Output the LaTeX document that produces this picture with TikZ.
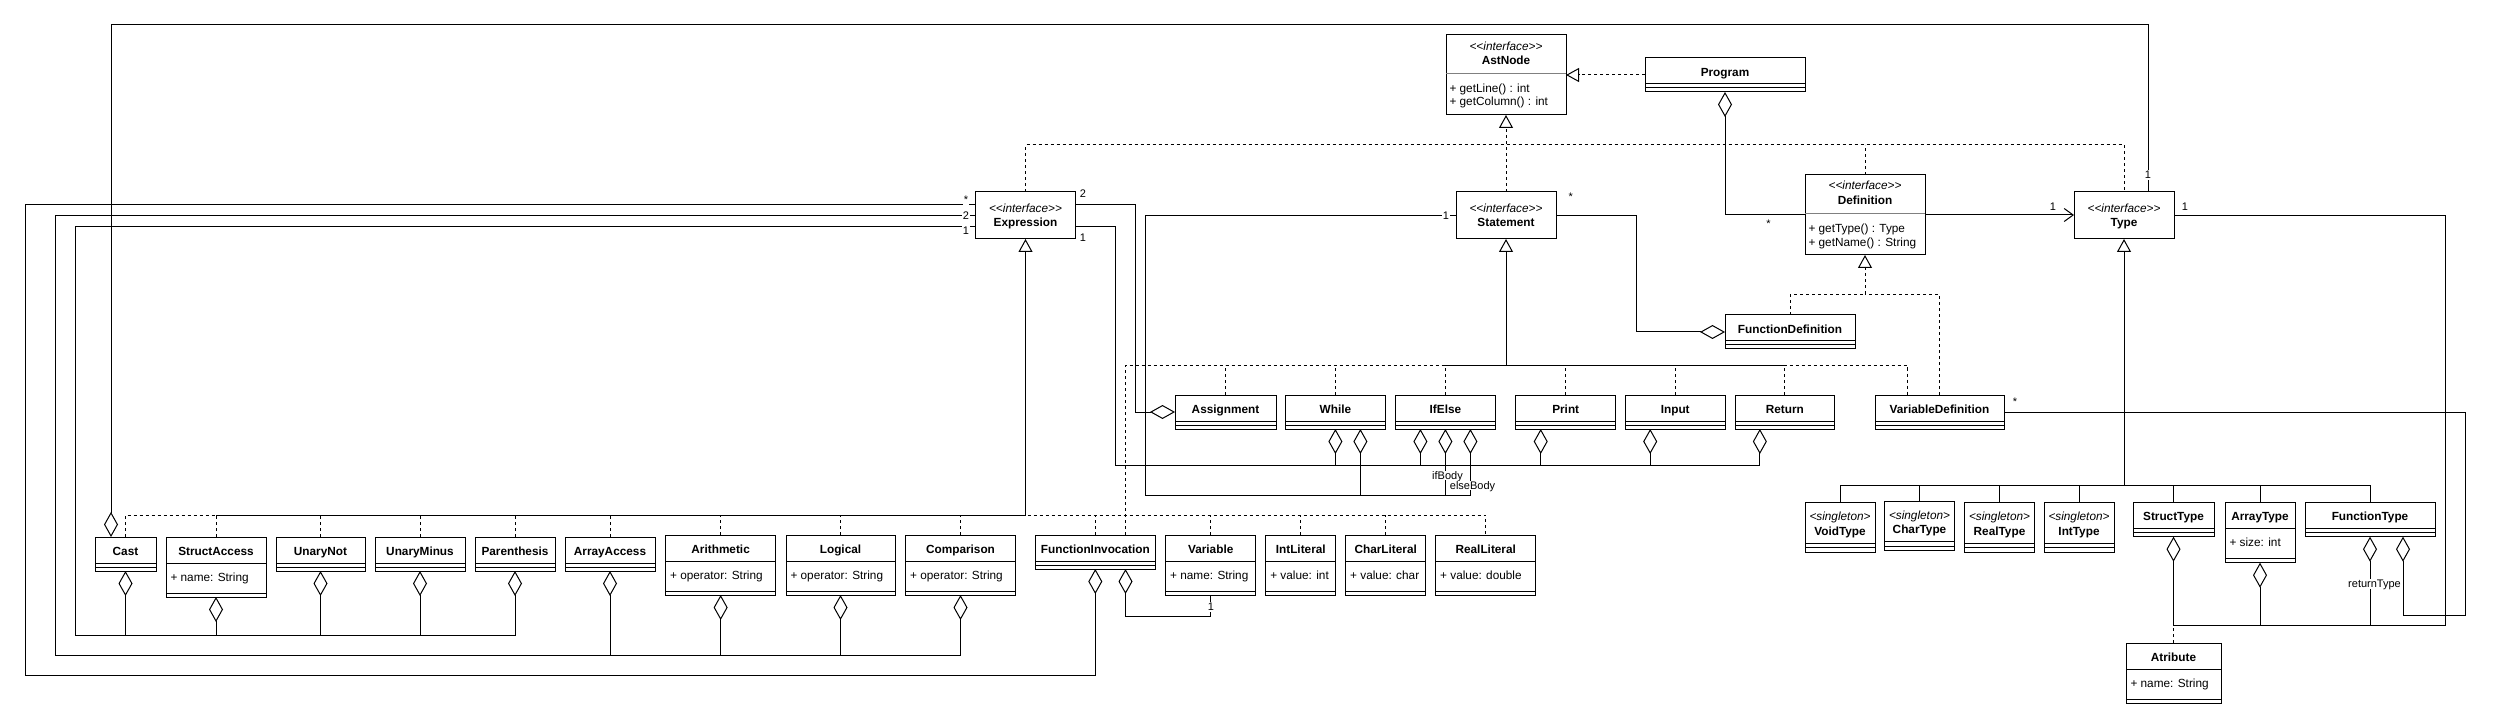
\documentclass[tikz,border=0pt]{standalone}
\usepackage{fontspec}
\setmainfont{Liberation Sans}
\usetikzlibrary{arrows.meta}

\newcommand\umlsize{\fontsize{11.8}{14}\selectfont}
\newcommand\stereotxt[1]{<\kern0pt<#1>\kern0pt>}

\tikzset{
  cls/.style={draw, anchor=north west, inner sep=0pt, outer sep=0pt},
  txt/.style={inner sep=0pt, text height=8.5pt, text depth=0pt, font=\umlsize},
  cname/.style={txt, font=\umlsize\bfseries},
  attr/.style={txt, anchor=west},
  stereo/.style={txt, font=\umlsize\itshape},
  mult/.style={txt, fill=white, inner sep=0.6pt, text height=7.9pt, font=\fontsize{11}{12}\selectfont},
  dep/.style={dash pattern=on 3pt off 3pt},
  agg/.style={{Diamond[open,length=25pt,width=14pt]}-},
  real/.style={dep, -{Triangle[open,length=13pt,width=14pt]}},
  gen/.style={-{Triangle[open,length=13pt,width=14pt]}},
  assoc/.style={-{Straight Barb[length=9pt,width=13pt]}}
}

\begin{document}
\begin{tikzpicture}[x=1pt, y=-1pt, line width=1pt]
  \useasboundingbox (0,0) rectangle (2493,711);

  % interfaces
  \node[cls, minimum width=120, minimum height=80] (ast) at (1446,35) {};
  \node[stereo] (ast-s) at ([yshift=-11]ast.north) {\stereotxt{interface}};
  \node[cname] (ast-t) at ([yshift=-25]ast.north) {AstNode};
  \draw[gray] ([yshift=-39]ast.north west) -- ([yshift=-39]ast.north east);
  \node[attr] (ast-m1) at ([xshift=3,yshift=-53]ast.north west) {+ getLine() : int};
  \node[attr] (ast-m2) at ([xshift=3,yshift=-66]ast.north west) {+ getColumn() : int};

  \node[cls, minimum width=120, minimum height=80] (def) at (1805,175) {};
  \node[stereo] (def-s) at ([yshift=-10]def.north) {\stereotxt{interface}};
  \node[cname] (def-t) at ([yshift=-25]def.north) {Definition};
  \draw[gray] ([yshift=-39]def.north west) -- ([yshift=-39]def.north east);
  \node[attr] (def-m1) at ([xshift=3,yshift=-53]def.north west) {+ getType() : Type};
  \node[attr] (def-m2) at ([xshift=3,yshift=-67]def.north west) {+ getName() : String};

  \foreach \nm/\xa/\tx in {expr/975.5/Expression, stmt/1456/Statement, typ/2074/Type} {
    \node[cls, minimum width=100, minimum height=47] (\nm) at (\xa,192) {};
    \node[stereo] (\nm-s) at ([yshift=-16]\nm.north) {\stereotxt{interface}};
    \node[cname] (\nm-t) at ([yshift=-30]\nm.north) {\tx};
  }

  % classes with no attributes
  \foreach \nm/\xa/\ya/\ww/\tx in {cast/95/537/61/Cast, unot/276/537/89/UnaryNot,
      umin/375/537/90/UnaryMinus, paren/475/537/80/Parenthesis, aacc/565/537/90/ArrayAccess,
      finv/1035/535/120.6/FunctionInvocation, assign/1175/395/101/Assignment,
      while/1285.4/395/100/While, ifelse/1395.4/395/100/IfElse, print/1515.7/395/100/Print,
      input/1625.3/395/99.8/Input, ret/1735/395/99.7/Return, vardef/1875/395/129/VariableDefinition,
      prog/1645/58/160/Program, fundef/1725/315/130/FunctionDefinition,
      structt/2133/502.7/81/StructType, funct/2305/502.7/130/FunctionType} {
    \node[cls, minimum width=\ww, minimum height=34] (\nm) at (\xa,\ya) {};
    \node[cname] (\nm-t) at ([yshift=-13.8]\nm.north) {\tx};
    \draw ([yshift=-26]\nm.north west) -- ([yshift=-26]\nm.north east);
    \draw ([yshift=-30]\nm.north west) -- ([yshift=-30]\nm.north east);
  }

  % classes with one attribute
  \foreach \nm/\xa/\ya/\ww/\tx/\at in {sacc/166/537/100/StructAccess/+ name: String,
      arith/665.6/535/110.1/Arithmetic/+ operator: String, logic/786/535/109/Logical/+ operator: String,
      comp/905.7/535/109.6/Comparison/+ operator: String, var/1165.7/535/90/Variable/+ name: String,
      intlit/1265.8/535/69.9/IntLiteral/+ value: int, charlit/1345.7/535/80/CharLiteral/+ value: char,
      reallit/1435.7/535/100.1/RealLiteral/+ value: double, arrt/2225/502.7/70/ArrayType/+ size: int,
      atr/2126/643/95/Atribute/+ name: String} {
    \node[cls, minimum width=\ww, minimum height=60] (\nm) at (\xa,\ya) {};
    \node[cname] (\nm-t) at ([yshift=-13.8]\nm.north) {\tx};
    \draw ([yshift=-26]\nm.north west) -- ([yshift=-26]\nm.north east);
    \node[attr] (\nm-a) at ([xshift=4,yshift=-40]\nm.north west) {\at};
    \draw ([yshift=-56]\nm.north west) -- ([yshift=-56]\nm.north east);
  }

  % singletons
  \foreach \nm/\xa/\ya/\tx in {voidt/1805/502.7/VoidType, chart/1884.5/501/CharType,
      realt/1964.5/502.7/RealType, intt/2044/502.7/IntType} {
    \node[cls, minimum width=70, minimum height=49.6] (\nm) at (\xa,\ya) {};
    \node[stereo] (\nm-s) at ([yshift=-14]\nm.north) {<singleton>};
    \node[cname] (\nm-t) at ([yshift=-28.3]\nm.north) {\tx};
    \draw ([yshift=-40.3]\nm.north west) -- ([yshift=-40.3]\nm.north east);
    \draw ([yshift=-45]\nm.north west) -- ([yshift=-45]\nm.north east);
  }

  % rails and bars
  \coordinate (rim) at (0,25);
  \coordinate (lvlA) at (0,145);
  \coordinate (lvlD) at (0,295);
  \coordinate (lvlS) at (0,365);
  \coordinate (lvlT) at (0,485.3);
  \coordinate (lvlE) at (0,515);
  \coordinate (railA) at (25.4,675);
  \coordinate (railB) at (55.6,655);
  \coordinate (railC) at (75.7,635.3);
  \coordinate (railD) at (1135.5,204.5);
  \coordinate (railE) at (1115.4,465.3);
  \coordinate (railF) at (1145.6,495);
  \coordinate (railG) at (1636,332);
  \coordinate (railH) at (2445.7,625.3);
  \coordinate (railI) at (2465.3,615.3);

  % realizations of AstNode
  \draw[real] (stmt.north) -- (ast.south);
  \draw[dep] (expr.north) |- (ast.south |- lvlA) -| (typ.north);
  \draw[dep] (def.north) -- (def.north |- lvlA);
  \draw[real] (prog.west) -- (ast.east);

  % program and definitions
  \draw[agg] (prog.south) |- (def.west);
  \node[mult] (m-prog) at (1768.5,224) {*};
  \draw[assoc] (def.east) -- (def.east -| typ.west);
  \node[mult] (m-def) at (2053,207) {1};
  \draw[real] (fundef.north) |- (def.south |- lvlD) -- (def.south);
  \draw[dep] (vardef.north) |- (def.south |- lvlD);

  % expression hierarchy
  \draw[gen] (expr.south |- lvlE) -- (expr.south);
  \draw[dep] (cast.north) |- (reallit.north |- lvlE) -- (reallit.north);
  \draw (sacc.north |- lvlE) -- (expr.south |- lvlE);
  \foreach \nm in {sacc,unot,umin,paren,aacc,arith,logic,comp,finv,var,intlit,charlit}
    \draw[dep] (\nm.north) -- (\nm.north |- lvlE);

  % statement hierarchy
  \draw[gen] (stmt.south |- lvlS) -- (stmt.south);
  \coordinate (fiS) at ([xshift=30.2]finv.north);
  \coordinate (vdS) at ([xshift=-32.5]vardef.north);
  \draw[dep] (fiS) -- (fiS |- lvlS) -| (vdS);
  \foreach \nm in {assign,while,ifelse,print,input,ret}
    \draw[dep] (\nm.north) -- (\nm.north |- lvlS);
  \draw (ifelse.north |- lvlS) -- (ret.north |- lvlS);

  % type hierarchy
  \draw[gen] (typ.south |- lvlT) -- (typ.south);
  \draw (voidt.north) |- (funct.north |- lvlT) -- (funct.north);
  \foreach \nm in {chart,realt,intt,structt,arrt}
    \draw (\nm.north) -- (\nm.north |- lvlT);

  % cast -> type
  \coordinate (castT) at ([xshift=-14.5]cast.north);
  \coordinate (typT) at ([xshift=24]typ.north);
  \draw[agg] (castT) -- (castT |- rim) -| (typT);
  \node[mult] (m-cast) at (2148,175) {1};

  % expression on the left
  \draw[agg] (finv.south) |- (railA) |- ([yshift=11]expr.west);
  \draw[agg] (comp.south) |- (railB) |- (expr.west);
  \foreach \nm in {aacc,arith,logic}
    \draw[agg] (\nm.south) -- (\nm.south |- railB);
  \draw[agg] (paren.south) |- (railC) |- ([yshift=-11]expr.west);
  \foreach \nm in {cast,sacc,unot,umin}
    \draw[agg] (\nm.south) -- (\nm.south |- railC);
  \node[mult] (m-e1) at (966,200) {*};
  \node[mult] (m-e2) at (966,215.5) {2};
  \node[mult] (m-e3) at (966,231) {1};

  % expression on the right
  \draw[agg] (assign.west) -| (railD) |- ([yshift=11]expr.east);
  \node[mult] (m-e4) at (1083,194) {2};
  \draw[agg] ([xshift=-25]ret.south) |- (railE) |- ([yshift=-11]expr.east);
  \foreach \nm/\dx in {while/0,ifelse/-25,print/-25,input/-25}
    \draw[agg] ([xshift=\dx]\nm.south) -- ++(0,36);
  \node[mult] (m-e5) at (1083,238) {1};

  % statements
  \draw[agg] ([xshift=25]ifelse.south) |- (railF) |- (stmt.west);
  \draw[agg] ([xshift=25]while.south) -- ++(0,65.7);
  \draw[agg] (ifelse.south) -- ++(0,65.7);
  \node[mult] (m-s1) at (1446,215.5) {1};
  \node[mult] (lb-if) at (1447.5,475.3) {ifBody};
  \node[mult] (lb-else) at (1472.5,485.7) {elseBody};
  \draw[agg] (fundef.west) -| (railG) |- (stmt.east);
  \node[mult] (m-s2) at (1570.7,197) {*};

  % function invocation -> variable
  \draw[agg] ([xshift=30.2]finv.south) -- ++(0,47.7) -| (var.south);
  \node[mult] (m-var) at (1211,607) {1};

  % types
  \draw[agg] (structt.south) |- (railH) |- (typ.east);
  \node[mult] (m-t1) at (2185,207) {1};
  \draw[agg] (arrt.south) -- (arrt.south |- railH);
  \draw[agg] (funct.south) -- (funct.south |- railH);
  \node[mult] (lb-ret) at (2374.5,584) {returnType};
  \draw[dep] (atr.north) -- (atr.north |- railH);
  \draw[agg] ([xshift=33]funct.south) |- (railI) |- (vardef.east);
  \node[mult] (m-vd) at (2015,402) {*};
\end{tikzpicture}
\end{document}
